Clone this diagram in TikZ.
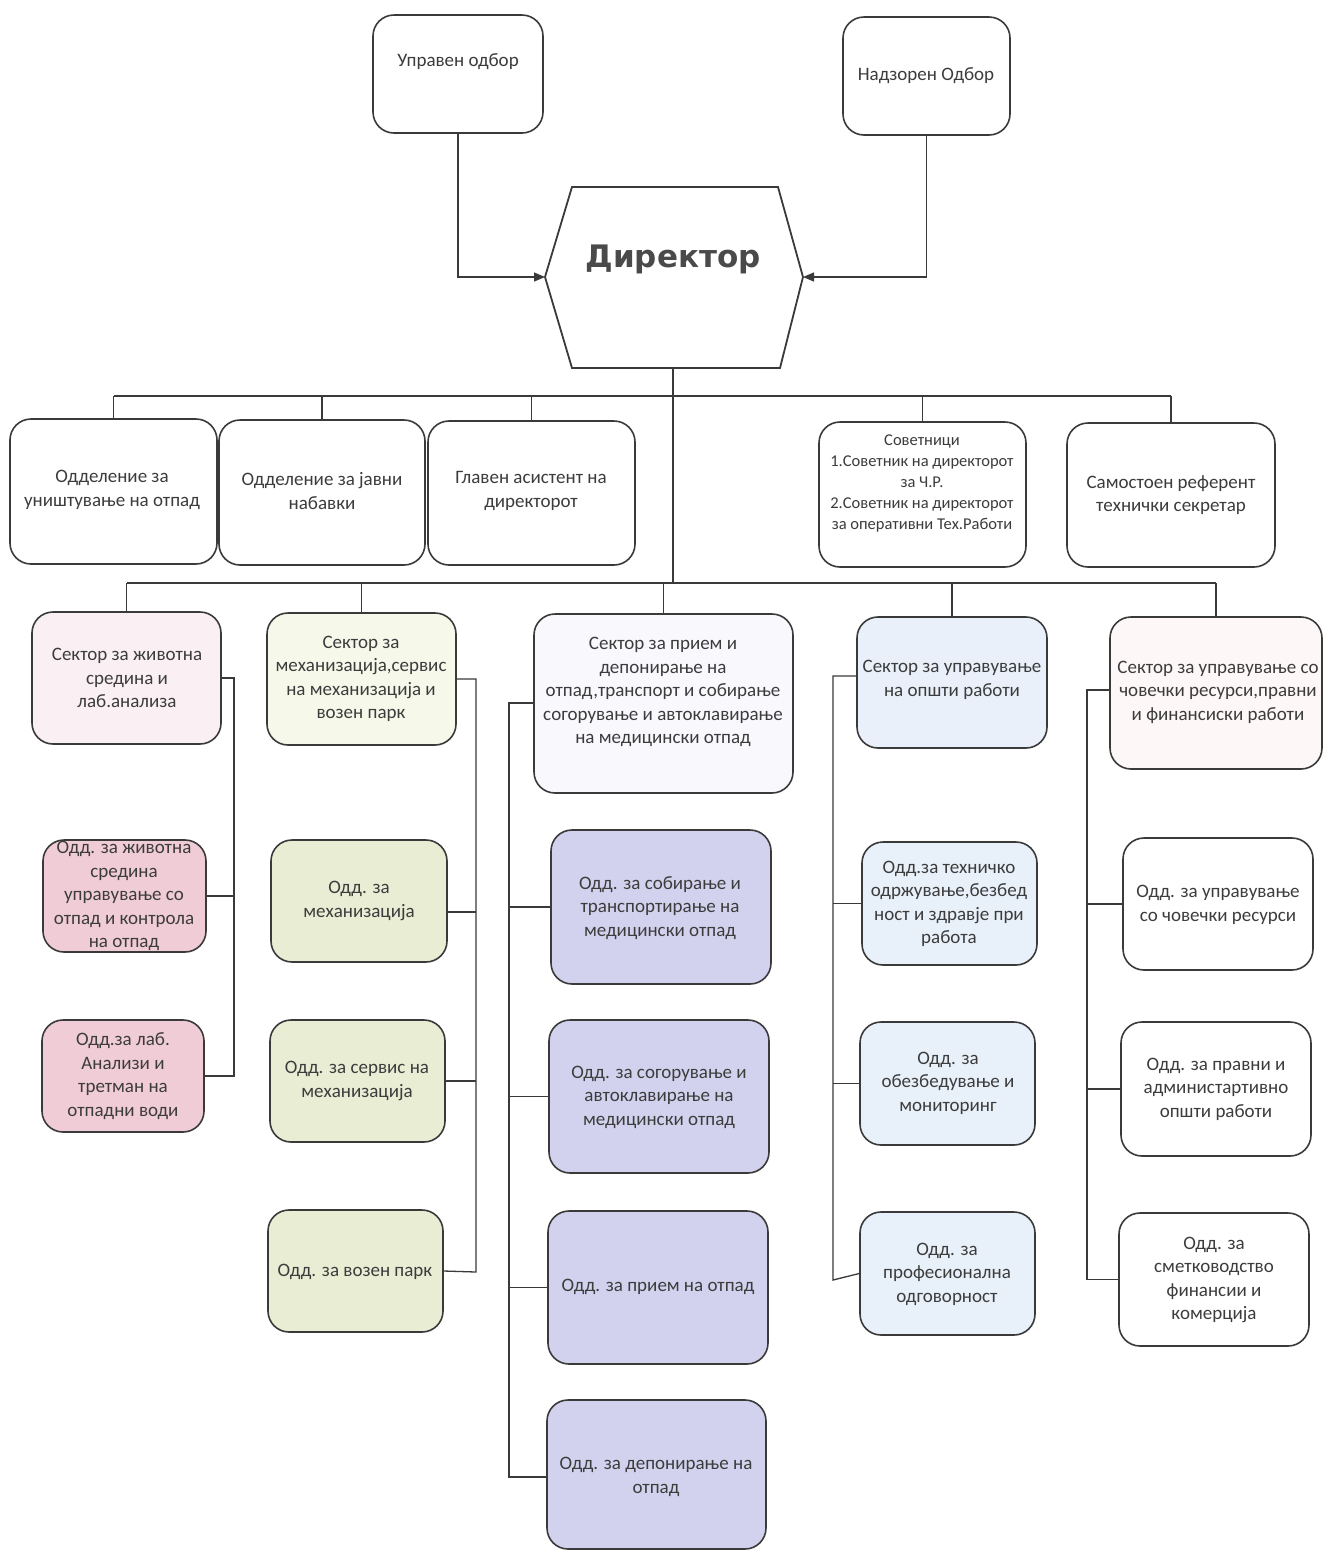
\documentclass[tikz,border=0pt]{standalone}
\usepackage{fontspec}
\setmainfont{Carlito}
\newfontfamily\dirfont{DejaVu Sans}
\usetikzlibrary{arrows.meta,fit}
\definecolor{ln}{HTML}{3A3A3A}
\definecolor{tx}{HTML}{3C3C3C}
\definecolor{dirc}{HTML}{4A4A4A}
\definecolor{sA}{HTML}{FAF0F4}
\definecolor{sB}{HTML}{F6F8EA}
\definecolor{sC}{HTML}{F9F8FD}
\definecolor{sD}{HTML}{E9F0FA}
\definecolor{sE}{HTML}{FDF7F7}
\definecolor{dA}{HTML}{F0CCD6}
\definecolor{dB}{HTML}{E8EDD4}
\definecolor{dC}{HTML}{D3D2EE}
\definecolor{dD}{HTML}{E8F0FA}
\definecolor{dE}{HTML}{FFFFFF}
\tikzset{
  box/.style={draw=ln, line width=1.6pt, rounded corners=21pt, inner sep=0pt},
  txt/.style={align=center, text=tx, font=\fontsize{19}{23.5}\selectfont, inner sep=0pt},
  smalltxt/.style={align=center, text=tx, font=\fontsize{16.5}{21}\selectfont, inner sep=0pt},
  conn/.style={draw=ln, line width=1.3pt},
  arr/.style={-{Triangle[length=11pt,width=9pt]}},
}
\newcommand\bx[9]{%
  \node[box,fill=#6,fit={(#2,#3) (#4,#5)}] (#1) {};
  \node[txt] (#1t) at (#7,#8) {#9};}
\begin{document}
\begin{tikzpicture}[x=1pt,y=-1pt]
\useasboundingbox[fill=white] (0,0) rectangle (1323,1551);
% top boards
\node[box,fill=white,fit={(373,15) (543,133)}] (ub) {};
\node[txt] (ubt) at (458,62) {Управен одбор};
\node[box,fill=white,fit={(843,17) (1010,135)}] (nb) {};
\node[txt] (nbt) at (926,76) {Надзорен Одбор};
% director hexagon
\coordinate (hTL) at (572,187);
\coordinate (hTR) at (778,187);
\coordinate (hR) at (803,277);
\coordinate (hBR) at (780,368);
\coordinate (hBL) at (572,368);
\coordinate (hL) at (545,277);
\coordinate (hB) at (673,368);
\draw[draw=ln, line width=1.8pt, fill=white] (hTL) -- (hTR) -- (hR) -- (hBR) -- (hBL) -- (hL) -- cycle;
\node[font=\dirfont\bfseries\fontsize{31}{36}\selectfont, text=dirc] (dir) at (673,259) {Директор};
\draw[conn,arr] (ub.south) |- (hL);
\draw[conn,arr] (nb.south) |- (hR);
% row 2
\bx{ra}{10}{419}{217}{564}{white}{112}{490}{Одделение за\\уништување на отпад}
\bx{rb}{219}{420}{425}{565}{white}{322}{491}{Одделение за јавни\\набавки}
\bx{rc}{428}{421}{635}{565}{white}{531}{491}{Главен асистент на\\директорот}
\node[box,fill=white,fit={(819,422) (1026,567)}] (rd) {};
\node[smalltxt] (rdt) at (922,483) {Советници\\1.Советник на директорот\\за Ч.Р.\\2.Советник на директорот\\за оперативни Тех.Работи};
\bx{re}{1067}{423}{1275}{567}{white}{1171}{495}{Самостоен референт\\технички секретар}
% sectors
\bx{sa}{32}{612}{221}{744}{sA}{127}{678}{Сектор за животна\\средина и\\лаб.анализа}
\bx{sb}{267}{613}{456}{745}{sB}{361}{679}{Сектор за\\механизација,сервис\\на механизација и\\возен парк}
\bx{sc}{534}{614}{793}{793}{sC}{663}{692}{Сектор за прием и\\депонирање на\\отпад,транспорт и собирање\\согорување и автоклавирање\\на медицински отпад}
\bx{sd}{857}{617}{1047}{748}{sD}{952}{680}{Сектор за управување\\на општи работи}
\bx{se}{1110}{617}{1322}{769}{sE}{1218}{692}{Сектор за управување со\\човечки ресурси,правни\\и финансиски работи}
% departments col 1
\bx{da}{43}{840}{206}{952}{dA}{124}{896}{Одд. за животна\\средина\\управување со\\отпад и контрола\\на отпад}
\bx{db}{42}{1020}{204}{1132}{dA}{123}{1076}{Одд.за лаб.\\Анализи и\\третман на\\отпадни води}
% col 2
\bx{dc}{271}{840}{447}{962}{dB}{359}{901}{Одд. за\\механизација}
\bx{dd}{270}{1020}{445}{1142}{dB}{357}{1081}{Одд. за сервис на\\механизација}
\bx{de}{268}{1210}{443}{1332}{dB}{355}{1272}{Одд. за возен парк}
% col 3
\bx{df}{551}{830}{771}{984}{dC}{660}{908}{Одд. за собирање и\\транспортирање на\\медицински отпад}
\bx{dg}{549}{1020}{769}{1173}{dC}{659}{1097}{Одд. за согорување и\\автоклавирање на\\медицински отпад}
\bx{dh}{548}{1211}{768}{1364}{dC}{658}{1287}{Одд. за прием на отпад}
\bx{di}{547}{1400}{766}{1549}{dC}{656}{1477}{Одд. за депонирање на\\отпад}
% col 4
\bx{dj}{862}{842}{1037}{965}{dD}{949}{904}{Одд.за техничко\\одржување,безбед\\ност и здравје при\\работа}
\bx{dk}{860}{1022}{1035}{1145}{dD}{948}{1083}{Одд. за\\обезбедување и\\мониторинг}
\bx{dl}{860}{1212}{1035}{1335}{dD}{947}{1274}{Одд. за\\професионална\\одговорност}
% col 5
\bx{dm}{1123}{838}{1313}{970}{dE}{1218}{905}{Одд. за управување\\со човечки ресурси}
\bx{dn}{1121}{1022}{1311}{1156}{dE}{1216}{1089}{Одд. за правни и\\администартивно\\општи работи}
\bx{do}{1119}{1213}{1309}{1346}{dE}{1214}{1280}{Одд. за\\сметководство\\финансии и\\комерција}
% buses
\coordinate (busA) at (673,396);
\coordinate (busB) at (673,583);
\draw[conn] (hB) -- (busB);
\draw[conn] (ra.north |- busA) -- (re.north |- busA);
\foreach \n in {ra,rb,rc,rd,re} \draw[conn] (\n.north) -- (\n.north |- busA);
\draw[conn] (sa.north |- busB) -- (se.north |- busB);
\foreach \n in {sa,sb,sc,sd,se} \draw[conn] (\n.north) -- (\n.north |- busB);
% sector trunks
\coordinate (ka) at (234,678);
\draw[conn] (sa.east) -- (ka) |- (db.east);
\draw[conn] (da.east) -- (da.east -| ka);
\coordinate (kb) at (476,679);
\coordinate (kbe) at (476,1272);
\draw[conn] (sb.east) -- (kb) -- (kbe) -- (de.east);
\draw[conn] (dc.east |- 0,912) -- (kb |- 0,912);
\draw[conn] (dd.east) -- (dd.east -| kb);
\coordinate (kc) at (509,703);
\draw[conn] (sc.west |- kc) -- (kc) |- (di.west |- 0,1477);
\foreach \n in {df,dg,dh} \draw[conn] (\n.west) -- (\n.west -| kc);
\coordinate (kd) at (833,676);
\coordinate (kde) at (833,1280);
\draw[conn] (sd.west |- kd) -- (kd) -- (kde) -- (dl.west);
\foreach \n in {dj,dk} \draw[conn] (\n.west) -- (\n.west -| kd);
\coordinate (ke) at (1087,690);
\draw[conn] (se.west |- ke) -- (ke) |- (do.west);
\foreach \n in {dm,dn} \draw[conn] (\n.west) -- (\n.west -| ke);
\end{tikzpicture}
\end{document}
